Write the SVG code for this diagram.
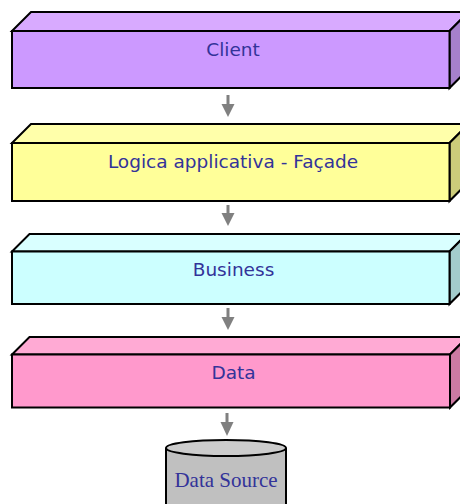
<svg xmlns="http://www.w3.org/2000/svg" width="460" height="504" viewBox="0 0 460 504">
<style>
.e{stroke:#000;stroke-width:2;stroke-linejoin:miter}
.t{font-family:"DejaVu Sans",Verdana,sans-serif;font-size:18.5px;fill:#333399;text-anchor:middle}
.ts{font-family:"Liberation Serif","Times New Roman",serif;font-size:21px;fill:#333399;text-anchor:middle}
.ar{fill:#808080}
</style>
<rect width="460" height="504" fill="#fff"/>
<g id="client">
<polygon class="e" fill="#d8aaff" points="12,31 31,12 468.5,12 449.5,31"/>
<polygon class="e" fill="#a680cc" points="449.5,31 468.5,12 468.5,69 449.5,88"/>
<rect class="e" fill="#cc99ff" x="12" y="31" width="437.5" height="57"/>
<text class="t" x="233" y="55.5">Client</text>
</g>
<g id="facade">
<polygon class="e" fill="#ffffaa" points="12,143 31,124 468.5,124 449.5,143"/>
<polygon class="e" fill="#cccc7a" points="449.5,143 468.5,124 468.5,182 449.5,201"/>
<rect class="e" fill="#ffff99" x="12" y="143" width="437.5" height="58"/>
<text class="t" x="233" y="168">Logica applicativa - Façade</text>
</g>
<g id="business">
<polygon class="e" fill="#d9ffff" points="12,251.5 29.5,234 467,234 449.5,251.5"/>
<polygon class="e" fill="#a3cccc" points="449.5,251.5 467,234 467,286.5 449.5,304"/>
<rect class="e" fill="#ccffff" x="12" y="251.5" width="437.5" height="52.5"/>
<text class="t" x="233.5" y="275.5">Business</text>
</g>
<g id="data">
<polygon class="e" fill="#ffaad4" points="12,354.5 29.5,337 467.5,337 450,354.5"/>
<polygon class="e" fill="#cc7aa3" points="450,354.5 467.5,337 467.5,390 450,407.5"/>
<rect class="e" fill="#ff99cc" x="12" y="354.5" width="438" height="53"/>
<text class="t" x="233.5" y="379">Data</text>
</g>
<g id="datasource">
<path class="e" fill="#c0c0c0" d="M166,448 L166,512 L286,512 L286,448"/>
<ellipse class="e" fill="#cccccc" cx="226" cy="448" rx="60" ry="8"/>
<text class="ts" x="226" y="486.5">Data Source</text>
</g>
<g id="connectors">
<rect class="ar" x="226.5" y="95" width="3" height="10"/>
<polygon class="ar" points="221.5,104 234.5,104 228,117"/>
<rect class="ar" x="226.5" y="205" width="3" height="9"/>
<polygon class="ar" points="221.5,213 234.5,213 228,226"/>
<rect class="ar" x="226.5" y="308" width="3" height="10"/>
<polygon class="ar" points="221.5,317 234.5,317 228,330"/>
<rect class="ar" x="225.5" y="413" width="3" height="10"/>
<polygon class="ar" points="220.5,422 233.5,422 227,436"/>
</g>
</svg>
